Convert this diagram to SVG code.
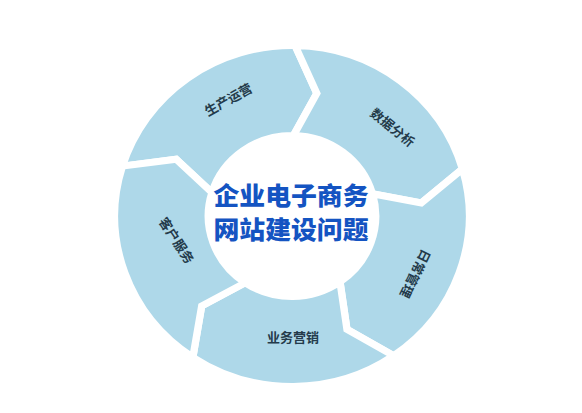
<svg xmlns="http://www.w3.org/2000/svg" width="582" height="413" viewBox="0 0 582 413">
  <style>
    .seg { fill: #aed8e9; stroke: #ffffff; stroke-width: 7; stroke-linejoin: miter; stroke-miterlimit: 10; }
    .lbl { font-family: "Noto Sans CJK SC", "Noto Sans", sans-serif; font-size: 13px; font-weight: 700; fill: #243b4b; text-anchor: middle; dominant-baseline: central; }
    .title { font-family: "Noto Sans CJK SC", "Noto Sans", sans-serif; font-size: 25px; font-weight: 900; fill: #1454c2; text-anchor: middle; }
  </style>
  <rect width="582" height="413" fill="#ffffff"/>
  <g id="connectors"></g>
  <g transform="translate(292,216) scale(1.04,1)">
    <g id="seg-shengchan">
      <path class="seg" d="M -163.05,-49.85 A 170.5 170.5 0 0 1 2.98,-170.47 L 23.85,-122.70 L 1.40,-80.49 A 80.5 80.5 0 0 0 -76.98,-23.54 L -111.38,-56.75 Z"/>
    </g>
    <g id="seg-shuju">
      <path class="seg" d="M 2.98,-170.47 A 170.5 170.5 0 0 1 163.90,-47.00 L 124.32,-13.07 L 77.38,-22.19 A 80.5 80.5 0 0 0 1.40,-80.49 L 23.85,-122.70 Z"/>
    </g>
    <g id="seg-richang">
      <path class="seg" d="M 163.90,-47.00 A 170.5 170.5 0 0 1 97.80,139.66 L 52.83,113.29 L 46.17,65.94 A 80.5 80.5 0 0 0 77.38,-22.19 L 124.32,-13.07 Z"/>
    </g>
    <g id="seg-yewu">
      <path class="seg" d="M 97.80,139.66 A 170.5 170.5 0 0 1 -95.34,141.35 L -86.83,89.92 L -45.01,66.74 A 80.5 80.5 0 0 0 46.17,65.94 L 52.83,113.29 Z"/>
    </g>
    <g id="seg-kehu">
      <path class="seg" d="M -95.34,141.35 A 170.5 170.5 0 0 1 -163.05,-49.85 L -111.38,-56.75 L -76.98,-23.54 A 80.5 80.5 0 0 0 -45.01,66.74 L -86.83,89.92 Z"/>
    </g>
  </g>
  <g id="label-shengchan"><text class="lbl" transform="translate(228,99) rotate(-29)">生产运营</text></g>
  <g id="label-shuju"><text class="lbl" font-size="14" transform="translate(393,127) rotate(39)">数据分析</text></g>
  <g id="label-richang"><text class="lbl" transform="translate(416,274) rotate(116)">日常管理</text></g>
  <g id="label-yewu"><text class="lbl" transform="translate(293,336)">业务营销</text></g>
  <g id="label-kehu"><text class="lbl" transform="translate(177,240) rotate(57)">客户服务</text></g>
  <g id="center">
    <text class="title" x="291" y="205" textLength="155" lengthAdjust="spacingAndGlyphs">企业电子商务</text>
    <text class="title" x="291" y="239" textLength="155" lengthAdjust="spacingAndGlyphs">网站建设问题</text>
  </g>
</svg>
